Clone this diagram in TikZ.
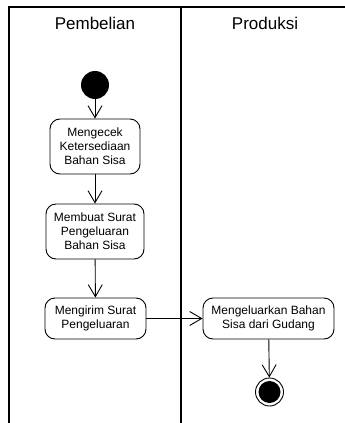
\documentclass[tikz,border=0pt]{standalone}
\usepackage{fontspec}
\setmainfont{Liberation Sans}
\usetikzlibrary{arrows.meta}
\begin{document}
\begin{tikzpicture}[x=1pt,y=-1pt,
  lane/.style={line width=1.5pt,black},
  lanetitle/.style={font=\fontsize{17}{20}\selectfont,inner sep=0pt},
  activity/.style={draw,line width=0.9pt,rounded corners=10pt,align=center,
    inner sep=0pt,font=\fontsize{12}{14}\selectfont},
  flow/.style={line width=0.9pt,-{Straight Barb[length=12pt,width=14pt,line width=0.9pt]}},
  initial/.style={circle,fill=black,minimum size=28pt,inner sep=0pt},
  final/.style={circle,draw,line width=0.9pt,minimum size=28pt,inner sep=0pt}]
  \useasboundingbox (0,0) rectangle (345,423);
  % swimlanes
  \draw[lane] (9,423) -- (9,7) -- (345,7);
  \draw[lane] (181,7) -- (181,423);
  \node[lanetitle] (t1) at (95,23) {Pembelian};
  \node[lanetitle] (t2) at (265,23) {Produksi};
  % activities
  \node[initial] (start) at (95,85) {};
  \node[activity,minimum width=90pt,minimum height=55pt] (b1) at (95,146.5)
    {Mengecek\\Ketersediaan\\Bahan Sisa};
  \node[activity,minimum width=98pt,minimum height=55pt] (b2) at (95,231.5)
    {Membuat Surat\\Pengeluaran\\Bahan Sisa};
  \node[activity,minimum width=101pt,minimum height=41pt] (b3) at (95.5,318.5)
    {Mengirim Surat\\Pengeluaran};
  \node[activity,minimum width=131pt,minimum height=41pt] (b4) at (268.5,318.5)
    {Mengeluarkan Bahan\\Sisa dari Gudang};
  \node[final] (end) at (269.5,392) {};
  \fill (end.center) circle (11pt);
  % control flow
  \draw[flow] (start) -- (b1);
  \draw[flow] (b1) -- (b2);
  \draw[flow] (b2) -- (b3);
  \draw[flow] (b3) -- (b4);
  \draw[flow] (b4) -- (end);
\end{tikzpicture}
\end{document}
